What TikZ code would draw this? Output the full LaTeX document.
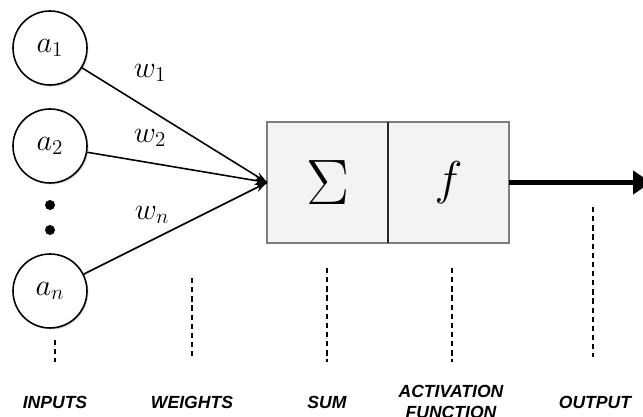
\documentclass[tikz,border=0pt]{standalone}
\usepackage{amsmath}
\usepackage{fontspec}
\newfontfamily\capfont{Liberation Sans}
\usepackage{tikz}
\usetikzlibrary{positioning}
\usetikzlibrary{decorations.markings}
\usetikzlibrary{arrows.meta}
\usetikzlibrary{shadows}
\usepackage{xcolor}

\definecolor{cellgray}{RGB}{243,243,243}
\definecolor{rimgray}{RGB}{125,125,125}

\tikzset{
  neuron/.style={draw, circle, line width=0.9pt, fill=white, minimum size=1.48cm,
    inner sep=0pt, font=\LARGE,
    drop shadow={shadow xshift=0.8pt, shadow yshift=-0.8pt, opacity=0.35}},
  cell/.style={draw=rimgray, line width=1.4pt, fill=cellgray, minimum width=2.42cm,
    minimum height=2.42cm, inner sep=0pt, outer sep=0pt,
    drop shadow={shadow xshift=0.8pt, shadow yshift=-0.8pt, opacity=0.3}},
  weight/.style={font=\LARGE},
  guide/.style={line width=1.2pt, dash pattern=on 3pt off 2.2pt},
  caption/.style={font=\capfont\bfseries\itshape\fontsize{10}{12}\selectfont, align=center}
}

\begin{document}
\begin{tikzpicture}[scale=1]
\useasboundingbox (0,0) rectangle (12.86,8.34);

% input neurons
\node[neuron] (a1) at (1,7.38) {$a_1$};
\node[neuron] (a2) at (1,5.42) {$a_2$};
\node[neuron] (an) at (1,2.52) {$a_n$};

\fill[black] (1,4.24) circle [radius=0.1];
\fill[black] (1,3.74) circle [radius=0.1];

% sum and activation
\node[cell] (sum) at (6.55,4.69) {\scalebox{1.47}{\Huge$\Sigma$}};
\node[cell, right=0pt of sum] (act) {\scalebox{1.3}{\huge$f$}};
\draw[line width=1pt, black!85] (sum.north east) -- (sum.south east);

\begin{scope}
[line width=0.9pt,decoration={
    markings,
    mark=at position 1 with {\arrow{Stealth[length=2.4mm, width=1.7mm]}}}
    ]
    \draw[postaction={decorate}] (a1) -- (sum.west);
    \draw[postaction={decorate}] (a2) -- (sum.west);
    \draw[postaction={decorate}] (an) -- (sum.west);
\end{scope}

\node[weight] (w1) at (3.0,6.88) {$w_1$};
\node[weight] (w2) at (3.0,5.58) {$w_2$};
\node[weight] (wn) at (3.04,4.04) {$w_n$};

% output
\coordinate (out) at (13.02,4.69);
\draw[line width=2.7pt, -{Triangle[length=0.36cm, width=0.46cm]}] (act.east) -- (out);

% guides down to the captions
\draw[guide] (1.1,1.54) -- (1.1,1.1);
\draw[guide] (3.84,2.78) -- (3.84,1.18);
\draw[guide] (6.54,2.98) -- (6.54,1.1);
\draw[guide] (9.04,2.98) -- (9.04,1.1);
\draw[guide] (11.86,4.2) -- (11.86,1.2);

\node[caption] (inputs) at (1.1,0.3) {INPUTS};
\node[caption] (weights) at (3.84,0.3) {WEIGHTS};
\node[caption] (sumcap) at (6.54,0.3) {SUM};
\node[caption] (actcap) at (9.02,0.31) {ACTIVATION\\FUNCTION};
\node[caption] (output) at (11.9,0.3) {OUTPUT};

\end{tikzpicture}
\end{document}
